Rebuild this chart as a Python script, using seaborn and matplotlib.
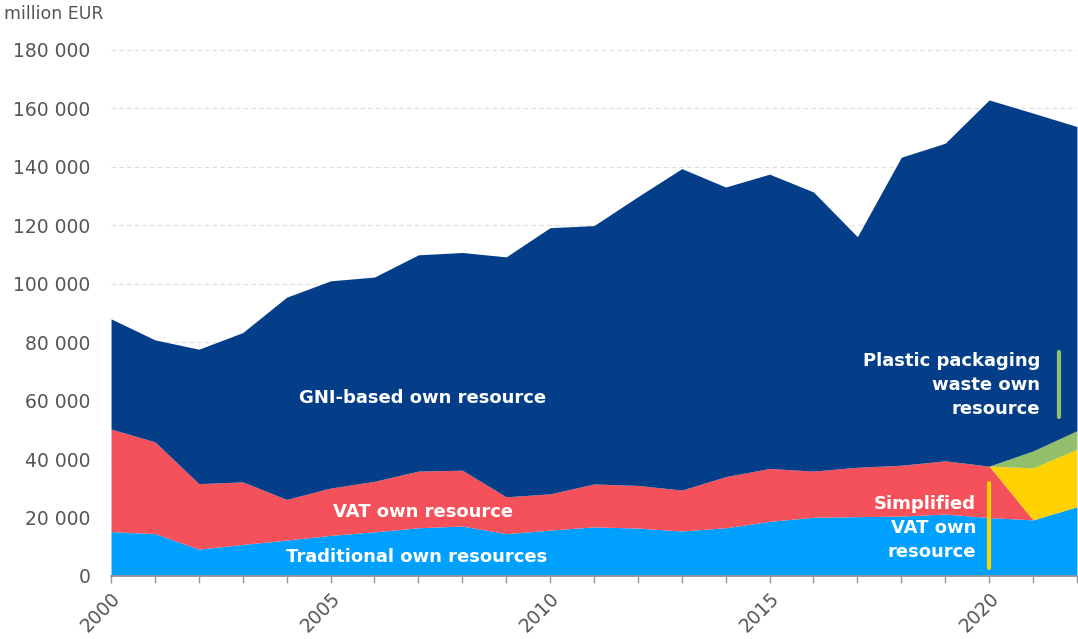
import numpy as np
import matplotlib
matplotlib.use("Agg")
from matplotlib import pyplot as plt
from matplotlib.ticker import FuncFormatter
import seaborn as sns

# 年份与各项收入（十亿欧元，后面换算）
years = list(range(2000, 2023))
traditional = [15.2, 14.5, 9.2, 10.8, 12.3, 13.9, 15.1, 16.5, 17.1, 14.5, 15.7, 16.8,
               16.4, 15.4, 16.5, 18.7, 20.1, 20.3, 20.5, 21.2, 20.0, 19.2, 23.7]
vat_top = [50.3, 45.9, 31.6, 32.2, 26.2, 30.1, 32.4, 35.9, 36.2, 27.1, 28.1, 31.5,
           31.0, 29.4, 34.0, 36.8, 35.9, 37.2, 37.9, 39.4, 37.6]
simplified_vat = [0] * 20 + [0.0, 17.8, 19.7]
plastic = [0] * 20 + [0.0, 5.8, 6.3]
total = [88.0, 80.8, 77.6, 83.3, 95.4, 101.0, 102.3, 109.9, 110.7, 109.2, 119.2, 119.9,
         129.8, 139.4, 133.1, 137.5, 131.4, 116.1, 143.3, 148.1, 162.9, 158.4, 153.8]

# 换算成百万欧元
traditional = np.array(traditional) * 1000
vat = np.array(vat_top + [0, 0]) * 1000
vat[:21] -= traditional[:21]
vat[21:] = 0
simplified_vat = np.array(simplified_vat) * 1000
plastic = np.array(plastic) * 1000
total = np.array(total) * 1000
gni = total - traditional - vat - simplified_vat - plastic

colors = ["#00A0FF", "#F4515A", "#FFD100", "#92BF6C", "#043E89"]

sns.set_theme(style="white")
plt.rcParams["font.family"] = ["DejaVu Sans"]

fig = plt.figure(figsize=(10.78, 6.39), dpi=100)
ax = fig.add_axes([0.103, 0.0986, 0.896, 0.8232])

ax.stackplot(years, traditional, vat, simplified_vat, plastic, gni,
             colors=colors, linewidth=0, zorder=2)

ax.set_xlim(2000, 2022)
ax.set_ylim(0, 180000)
ax.set_yticks(range(0, 180001, 20000))
ax.yaxis.set_major_formatter(FuncFormatter(lambda v, p: f"{int(v):,}".replace(",", " ")))
ax.grid(axis="y", color="#dddddd", linestyle=(0, (4, 3)), linewidth=0.8, zorder=0)
ax.set_xticks(years)
ax.set_xticklabels([str(y) if y % 5 == 0 else "" for y in years],
                   rotation=45, ha="right", rotation_mode="anchor")
ax.tick_params(axis="x", length=5, width=1, color="#999999", labelcolor="#555555",
               labelsize=13.5, pad=4, bottom=True)
ax.tick_params(axis="y", length=0, labelcolor="#555555", labelsize=13.5, pad=15)
sns.despine(ax=ax, left=True, top=True, right=True)
ax.spines["bottom"].set_color("#999999")
ax.spines["bottom"].set_zorder(3)

fig.text(0.004, 0.978, "million EUR", fontsize=12.5, color="#555555", va="center")

lbl = dict(color="white", fontsize=13, fontweight="bold", zorder=4)
ax.text(2007.1, 61000, "GNI-based own resource", ha="center", va="center", **lbl)
ax.text(2007.1, 21900, "VAT own resource", ha="center", va="center", **lbl)
ax.text(2006.95, 6500, "Traditional own resources", ha="center", va="center", **lbl)
ax.text(2019.7, 16400, "Simplified\nVAT own\nresource", ha="right", va="center",
        linespacing=1.45, **lbl)
ax.text(2021.16, 65400, "Plastic packaging\nwaste own\nresource", ha="right", va="center",
        linespacing=1.45, **lbl)
ax.plot([2020.0, 2020.0], [2800, 31800], color=colors[2], linewidth=3, zorder=4)
ax.plot([2021.6, 2021.6], [54500, 76500], color=colors[3], linewidth=3, zorder=4)

plt.savefig("out.png", dpi=100)
